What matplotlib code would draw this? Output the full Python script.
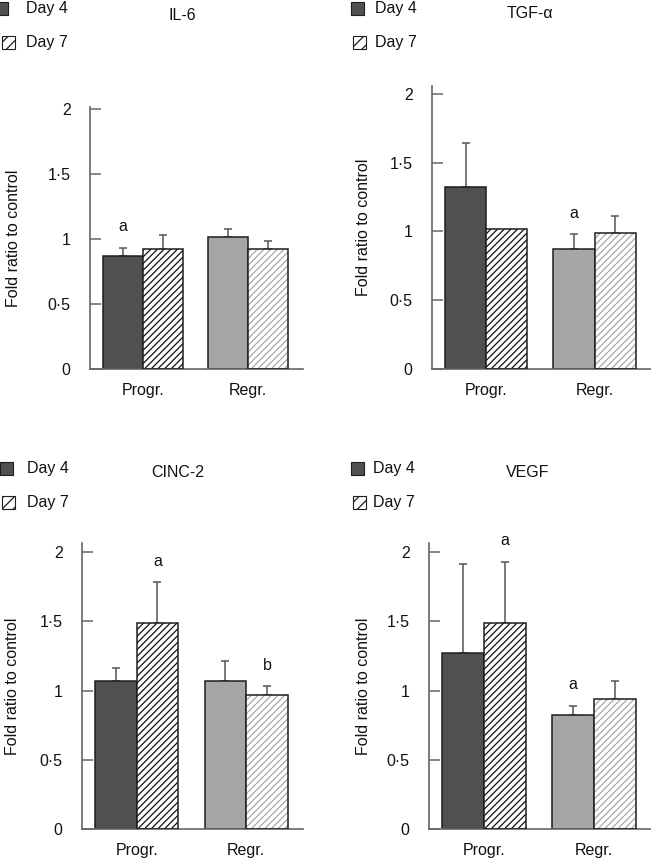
import matplotlib
matplotlib.use("Agg")
import matplotlib.pyplot as plt
from matplotlib.patches import Rectangle
import numpy as np

plt.rcParams['font.family'] = ['Liberation Sans', 'DejaVu Sans']
plt.rcParams['hatch.linewidth'] = 0.9

groups = ["Progr.", "Regr."]
series = ["Day 4", "Day 7"]
titles = ["IL-6", "TGF-\u03b1", "CINC-2", "VEGF"]
yticks = [0, 0.5, 1, 1.5, 2]
ytick_labels = ["0", "0\u00b75", "1", "1\u00b75", "2"]

# values: [Progr., Regr.]
il6_day4 = [0.867, 1.013]
il6_day4_err = [0.066, 0.062]
il6_day7 = [0.923, 0.921]
il6_day7_err = [0.105, 0.066]
il6_marks = [["a", ""], ["", ""]]  # [day4 marks, day7 marks]

tgf_day4 = [1.32, 0.87]
tgf_day4_err = [0.32, 0.11]
tgf_day7 = [1.02, 0.99]
tgf_day7_err = [0.0, 0.12]
tgf_marks = [["", "a"], ["", ""]]

cinc_day4 = [1.07, 1.07]
cinc_day4_err = [0.09, 0.14]
cinc_day7 = [1.49, 0.97]
cinc_day7_err = [0.29, 0.06]
cinc_marks = [["", ""], ["a", "b"]]

vegf_day4 = [1.27, 0.82]
vegf_day4_err = [0.64, 0.07]
vegf_day7 = [1.49, 0.94]
vegf_day7_err = [0.44, 0.13]
vegf_marks = [["", "a"], ["a", ""]]

panels = [
    (il6_day4, il6_day4_err, il6_day7, il6_day7_err, il6_marks),
    (tgf_day4, tgf_day4_err, tgf_day7, tgf_day7_err, tgf_marks),
    (cinc_day4, cinc_day4_err, cinc_day7, cinc_day7_err, cinc_marks),
    (vegf_day4, vegf_day4_err, vegf_day7, vegf_day7_err, vegf_marks),
]

W, H = 651, 859
fig = plt.figure(figsize=(W / 100, H / 100), dpi=100)

# axes boxes in pixels: left, right, top, bottom
boxes = [(90, 303, 107, 369), (432, 651, 86, 369), (82, 303, 543, 829), (429, 651, 543, 829)]
ytops = [2.015, 2.058, 2.065, 2.065]
ylabel_x = [13, 363, 13, 363]
title_pos = [(182, 15), (530, 14), (178, 473), (528, 473)]
legend_sq = [((-5, 2), (2, 36)), ((351, 2), (353, 36)), ((0, 462), (2, 496)), ((351, 462), (353, 496))]
legend_tx = [26, 375, 27, 373]

day4_colors = ["#505050", "#a6a6a6"]
day7_hatch_colors = ["#111111", "#a8a8a8"]
edge = "#1e1e1e"
err_col = "#555555"
fs = 11.5

w = 0.38
x = np.arange(len(groups))

for i, (d4, e4, d7, e7, marks) in enumerate(panels):
    l, r, t, b = boxes[i]
    ax = fig.add_axes([l / W, 1 - b / H, (r - l) / W, (b - t) / H])
    # Day 4
    ax.bar(x - w / 2, d4, w, color=day4_colors, edgecolor=edge, linewidth=1.1, zorder=2)
    # Day 7 hatched
    for j in range(len(groups)):
        ax.bar(x[j] + w / 2, d7[j], w, color="white", edgecolor=day7_hatch_colors[j],
               hatch="/////", linewidth=0, zorder=2)
    ax.bar(x + w / 2, d7, w, fill=False, edgecolor=edge, linewidth=1.1, zorder=3)
    # error bars (upper only)
    for xs, vals, errs in ((x - w / 2, d4, e4), (x + w / 2, d7, e7)):
        for xx, v, e in zip(xs, vals, errs):
            if e > 0:
                ax.errorbar(xx, v, yerr=[[0], [e]], fmt="none", ecolor=err_col,
                            elinewidth=1.1, capsize=3, capthick=1.1, zorder=1)
    # significance marks
    for k, (xs, vals, errs) in enumerate(((x - w / 2, d4, e4), (x + w / 2, d7, e7))):
        for xx, v, e, m in zip(xs, vals, errs, marks[k]):
            if m:
                ax.annotate(m, xy=(xx, v + e), xytext=(0, 12), textcoords="offset points",
                            ha="center", va="baseline", fontsize=fs, color="#111111")
    ax.set_xlim(-0.5, 1.52)
    ax.set_ylim(0, ytops[i])
    ax.set_yticks(yticks)
    ax.set_yticklabels(ytick_labels)
    ax.set_xticks(x)
    ax.set_xticklabels(groups)
    ax.tick_params(axis="x", length=0, pad=10, labelsize=fs, colors="#111111")
    ax.tick_params(axis="y", direction="in", length=8, width=1.1, pad=14, labelsize=fs,
                   color="#666666", labelcolor="#111111")
    for s in ("top", "right"):
        ax.spines[s].set_visible(False)
    for s in ("left", "bottom"):
        ax.spines[s].set_color("#666666")
        ax.spines[s].set_linewidth(1.2)
    ax.set_ylabel("Fold ratio to control", fontsize=fs, color="#111111")
    ax.yaxis.label.set_va("center")
    ax.yaxis.set_label_coords((ylabel_x[i] - l) / (r - l), 0.5)

    # title
    tx, ty = title_pos[i]
    fig.text(tx / W, 1 - ty / H, titles[i], ha="center", va="center", fontsize=fs, color="#111111")
    # legend
    (s4x, s4y), (s7x, s7y) = legend_sq[i]
    sq = 13
    fig.add_artist(Rectangle((s4x / W, 1 - (s4y + sq) / H), sq / W, sq / H,
                             transform=fig.transFigure, facecolor=day4_colors[0],
                             edgecolor=edge, linewidth=0.8))
    fig.add_artist(Rectangle((s7x / W, 1 - (s7y + sq) / H), sq / W, sq / H,
                             transform=fig.transFigure, facecolor="white", hatch="///",
                             edgecolor=edge, linewidth=0.8))
    fig.text(legend_tx[i] / W, 1 - (s4y + sq / 2) / H, series[0], ha="left", va="center",
             fontsize=fs, color="#111111")
    fig.text(legend_tx[i] / W, 1 - (s7y + sq / 2) / H, series[1], ha="left", va="center",
             fontsize=fs, color="#111111")

fig.savefig("out.png", dpi=100)
